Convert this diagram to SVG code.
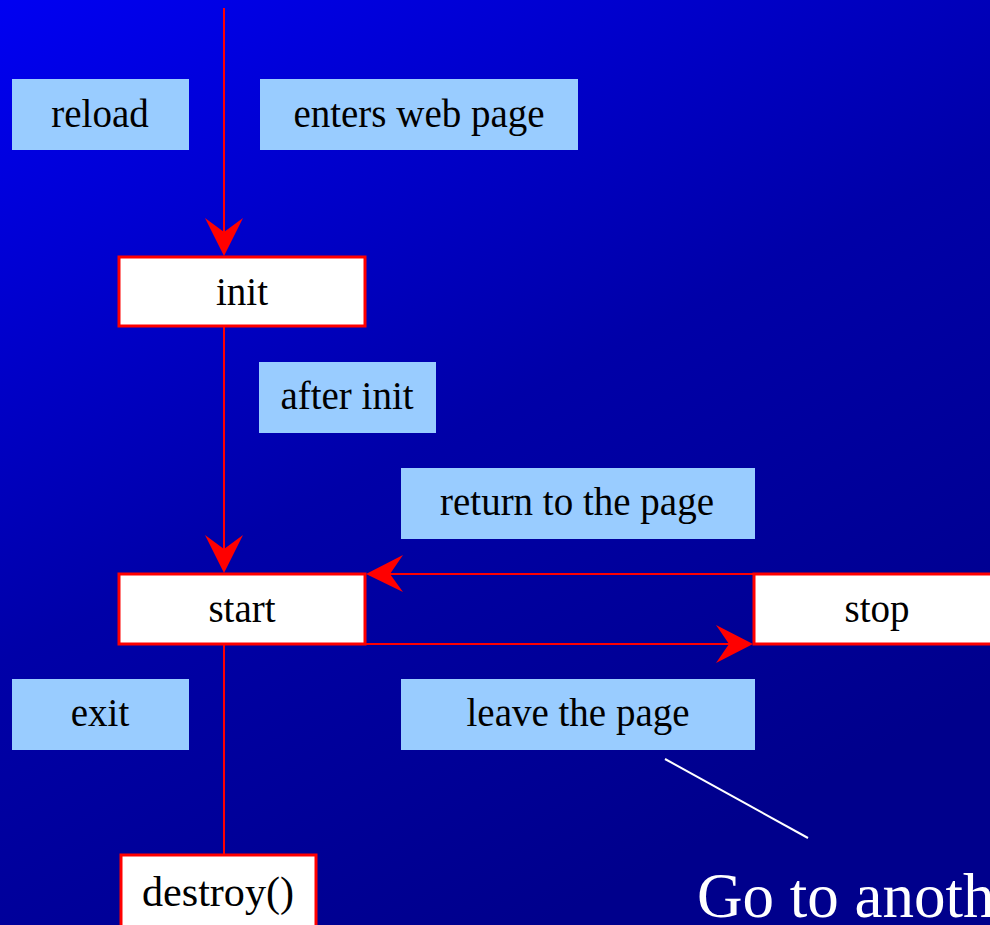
<svg xmlns="http://www.w3.org/2000/svg" width="990" height="925" viewBox="0 0 990 925">
  <defs>
    <linearGradient id="bg" x1="0" y1="0" x2="0.55" y2="1">
      <stop offset="0" stop-color="#0000F2"/>
      <stop offset="0.55" stop-color="#0000A8"/>
      <stop offset="1" stop-color="#00008C"/>
    </linearGradient>
    <style>
      .lbl rect { fill: #99CCFF; }
      .state rect { fill: #FFFFFF; stroke: #FF0000; stroke-width: 3; }
      text { font-family: "Liberation Serif", "Times New Roman", serif; font-size: 39px; fill: #000000; text-anchor: middle; }
      .wire { stroke: #FF0000; stroke-width: 2; fill: none; }
      .head { fill: #FF0000; }
    </style>
  </defs>

  <rect x="0" y="0" width="990" height="925" fill="url(#bg)"/>

  <!-- transitions -->
  <g id="connectors">
    <line class="wire" x1="224" y1="8" x2="224" y2="240"/>
    <polygon class="head" points="224,256 205,218 224,232 243,218"/>

    <line class="wire" x1="224" y1="327" x2="224" y2="556"/>
    <polygon class="head" points="224,573 205,535 224,549 243,535"/>

    <line class="wire" x1="753" y1="574" x2="385" y2="574"/>
    <polygon class="head" points="366,574 403,555 390,574 403,592"/>

    <line class="wire" x1="366" y1="644" x2="735" y2="644"/>
    <polygon class="head" points="753,644 716,625 729,644 716,663"/>

    <line class="wire" x1="224" y1="645" x2="224" y2="854"/>

    <line x1="665" y1="759" x2="808" y2="838" stroke="#FFFFFF" stroke-width="2"/>
  </g>

  <!-- event labels -->
  <g id="reload" class="lbl">
    <rect x="12" y="79" width="177" height="71"/>
    <text x="100" y="127">reload</text>
  </g>
  <g id="enters" class="lbl">
    <rect x="260" y="79" width="318" height="71"/>
    <text x="419" y="127">enters web page</text>
  </g>
  <g id="after-init" class="lbl">
    <rect x="259" y="362" width="177" height="71"/>
    <text x="347" y="409">after init</text>
  </g>
  <g id="return" class="lbl">
    <rect x="401" y="468" width="354" height="71"/>
    <text x="577" y="515">return to the page</text>
  </g>
  <g id="exit" class="lbl">
    <rect x="12" y="679" width="177" height="71"/>
    <text x="100" y="726">exit</text>
  </g>
  <g id="leave" class="lbl">
    <rect x="401" y="679" width="354" height="71"/>
    <text x="578" y="726">leave the page</text>
  </g>

  <!-- lifecycle states -->
  <g id="init" class="state">
    <rect x="119" y="257" width="246" height="69"/>
    <text x="242" y="305">init</text>
  </g>
  <g id="start" class="state">
    <rect x="119" y="574" width="246" height="70"/>
    <text x="242" y="622">start</text>
  </g>
  <g id="stop" class="state">
    <rect x="754" y="574" width="240" height="70"/>
    <text x="877" y="622">stop</text>
  </g>
  <g id="destroy" class="state">
    <rect x="121" y="855" width="195" height="75"/>
    <text x="218" y="906" style="font-size:43px" textLength="152" lengthAdjust="spacingAndGlyphs">destroy()</text>
  </g>

  <text x="697" y="917" style="font-size:63px; fill:#FFFFFF; text-anchor:start">Go to anoth</text>
</svg>
